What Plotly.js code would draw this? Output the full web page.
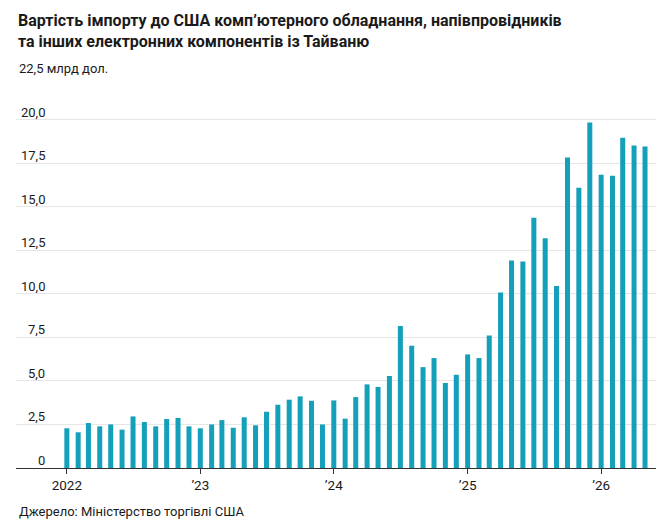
<!DOCTYPE html>
<html>
<head>
<meta charset="utf-8">
<script src="https://cdn.plot.ly/plotly-3.0.1.min.js"></script>
<style>
  html, body { margin: 0; padding: 0; background: #fff; }
  #chart { width: 665px; height: 526px; }
</style>
</head>
<body>
<div id="chart"></div>
<script>
'use strict'

// monthly import value, bn USD, Jan 2022 .. May 2026
const months = [
  '2022-01-01', '2022-02-01', '2022-03-01', '2022-04-01', '2022-05-01', '2022-06-01',
  '2022-07-01', '2022-08-01', '2022-09-01', '2022-10-01', '2022-11-01', '2022-12-01',
  '2023-01-01', '2023-02-01', '2023-03-01', '2023-04-01', '2023-05-01', '2023-06-01',
  '2023-07-01', '2023-08-01', '2023-09-01', '2023-10-01', '2023-11-01', '2023-12-01',
  '2024-01-01', '2024-02-01', '2024-03-01', '2024-04-01', '2024-05-01', '2024-06-01',
  '2024-07-01', '2024-08-01', '2024-09-01', '2024-10-01', '2024-11-01', '2024-12-01',
  '2025-01-01', '2025-02-01', '2025-03-01', '2025-04-01', '2025-05-01', '2025-06-01',
  '2025-07-01', '2025-08-01', '2025-09-01', '2025-10-01', '2025-11-01', '2025-12-01',
  '2026-01-01', '2026-02-01', '2026-03-01', '2026-04-01', '2026-05-01'
]
const values = [
  2.28, 2.05, 2.58, 2.39, 2.50, 2.20, 2.96, 2.64, 2.39, 2.81, 2.87, 2.39,
  2.28, 2.50, 2.75, 2.31, 2.91, 2.45, 3.23, 3.63, 3.92, 4.11, 3.86, 2.50,
  3.88, 2.83, 4.07, 4.80, 4.65, 5.28, 8.15, 7.02, 5.79, 6.31, 4.88, 5.35,
  6.52, 6.31, 7.61, 10.08, 11.91, 11.85, 14.36, 13.19, 10.44, 17.82, 16.08, 19.83,
  16.83, 16.77, 18.95, 18.51, 18.45
]
const xTickVals = ['2022-01-01', '2023-01-01', '2024-01-01', '2025-01-01', '2026-01-01']
const xTickText = ['2022', '\u201923', '\u201924', '\u201925', '\u201926']
const yTickVals = [0, 2.5, 5, 7.5, 10, 12.5, 15, 17.5, 20]
const yTickText = ['0', '2,5', '5,0', '7,5', '10,0', '12,5', '15,0', '17,5', '20,0']
const yTopVal = 22.5
const yTopText = '22,5 млрд дол.'

const FONT = 'Roboto, "Noto Sans", sans-serif'
const TEXT = '#1a1a1a'
const DAY = 86400000

const trace = {
  type: 'bar',
  x: months,
  y: values,
  width: 13.7 * DAY,
  marker: { color: '#149fba' },
  hoverinfo: 'skip'
}

// y labels sit just above their gridlines, right-aligned
const annotations = yTickVals.map((v, i) => ({
  xref: 'paper', yref: 'y', x: 0.0492, y: v,
  xanchor: 'right', yanchor: 'bottom', yshift: -2,
  text: yTickText[i], showarrow: false,
  font: { family: FONT, size: 13, color: TEXT }
}))
annotations.push({
  xref: 'paper', yref: 'y', x: 0.0016, y: yTopVal,
  xanchor: 'left', yanchor: 'bottom', yshift: -2,
  text: yTopText, showarrow: false,
  font: { family: FONT, size: 13, color: TEXT }
})
annotations.push({
  xref: 'paper', yref: 'paper', x: 0.0016, y: -0.11,
  xanchor: 'left', yanchor: 'middle',
  text: 'Джерело: Міністерство торгівлі США', showarrow: false,
  font: { family: FONT, size: 13, color: TEXT }
})

const layout = {
  width: 665,
  height: 526,
  margin: { l: 16, r: 9, t: 75.5, b: 58.3 },
  paper_bgcolor: '#fff',
  plot_bgcolor: '#fff',
  showlegend: false,
  title: {
    text: 'Вартість імпорту до США комп\u2019ютерного обладнання, напівпровідників<br>та інших електронних компонентів із Тайваню',
    xref: 'container', yref: 'container',
    x: 18 / 665, xanchor: 'left',
    y: 1 - 26 / 526, yanchor: 'top',
    font: { family: FONT, size: 16, color: TEXT, weight: 'bold' }
  },
  xaxis: {
    type: 'date',
    range: ['2021-08-15', '2026-05-31'],
    tickvals: xTickVals,
    ticktext: xTickText,
    ticks: 'outside',
    ticklen: 5,
    tickcolor: '#333',
    showline: true,
    linecolor: '#333',
    linewidth: 1,
    showgrid: false,
    zeroline: false,
    tickfont: { family: FONT, size: 13.5, color: TEXT },
    fixedrange: true
  },
  yaxis: {
    range: [0, yTopVal],
    tickvals: yTickVals.concat([yTopVal]),
    showticklabels: false,
    gridcolor: '#e6e6e6',
    gridwidth: 1,
    zeroline: false,
    fixedrange: true
  },
  annotations: annotations
}

Plotly.newPlot('chart', [trace], layout, { displayModeBar: false, staticPlot: true })
</script>
</body>
</html>
